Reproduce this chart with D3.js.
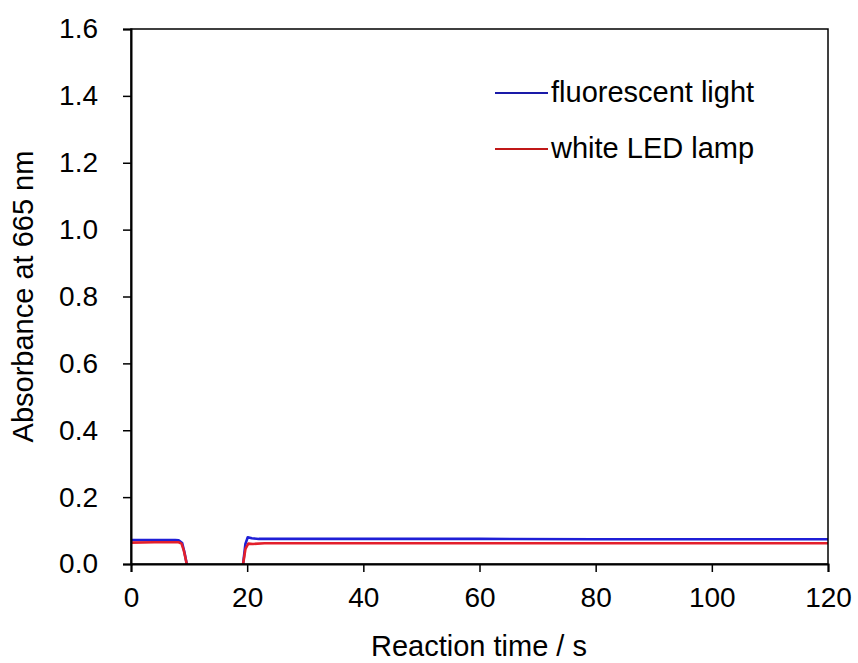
<!DOCTYPE html>
<html>
<head>
<meta charset="utf-8">
<script src="https://cdn.jsdelivr.net/npm/d3@7"></script>
<style>
  body { margin: 0; background: #fff; }
  text { font-family: "Liberation Sans", Arial, sans-serif; fill: #000; }
</style>
</head>
<body>
<svg id="chart" width="858" height="663"></svg>
<script>
// series: [time s, absorbance], null = gap (light off)
const fluorescentLight = [
  [0, 0.072], [4, 0.072], [7.6, 0.072], [8.2, 0.071], [8.8, 0.063], [9.2, 0.035], [9.6, 0], null,
  [19.3, 0], [19.7, 0.06], [20.1, 0.080], [20.8, 0.077], [22, 0.075], [40, 0.075], [60, 0.075], [80, 0.074], [100, 0.074], [120, 0.074]
];
const whiteLedLamp = [
  [0, 0.064], [4, 0.065], [8.2, 0.065], [8.7, 0.061], [9.1, 0.04], [9.6, 0], null,
  [19.3, 0], [19.7, 0.045], [20.2, 0.061], [21, 0.060], [23, 0.062], [40, 0.062], [60, 0.062], [80, 0.062], [100, 0.062], [120, 0.062]
];
const seriesNames = ["fluorescent light", "white LED lamp"];
const seriesColors = ["#1f1fd6", "#e31f2b"];
const xTicks = [0, 20, 40, 60, 80, 100, 120];
const yTicks = [0, 0.2, 0.4, 0.6, 0.8, 1.0, 1.2, 1.4, 1.6];

const margin = {left: 131, top: 29, right: 30, bottom: 99};
const width = 858, height = 663;
const fontSize = "28px";

const svg = d3.select("#chart");

let x = d3.scaleLinear().domain([0, 120]).range([margin.left, width - margin.right]);
let y = d3.scaleLinear().domain([0, 1.6]).range([height - margin.bottom, margin.top]);

svg.append("clipPath").attr("id", "clip")
   .append("rect")
   .attr("x", x(0)).attr("y", y(1.6))
   .attr("width", x(120) - x(0)).attr("height", y(0) - y(1.6));

let line = d3.line()
             .defined(d => d !== null)
             .x(d => x(d[0]))
             .y(d => y(d[1]));

[fluorescentLight, whiteLedLamp].forEach(function (data, i) {
    svg.append("path")
       .attr("d", line(data))
       .attr("fill", "none")
       .attr("clip-path", "url(#clip)")
       .attr("stroke", seriesColors[i])
       .attr("stroke-width", 2.6)
       .attr("stroke-linejoin", "round");
});

// frame
svg.append("rect")
   .attr("x", x(0)).attr("y", y(1.6))
   .attr("width", x(120) - x(0)).attr("height", y(0) - y(1.6))
   .attr("fill", "none").attr("stroke", "#000").attr("stroke-width", 1.5);

// axes
let xAxis = svg.append("g")
   .attr("transform", "translate(0," + y(0) + ")")
   .call(d3.axisBottom(x).tickValues(xTicks).tickSize(8).tickPadding(15).tickFormat(d3.format("d")));
let yAxis = svg.append("g")
   .attr("transform", "translate(" + x(0) + ",0)")
   .call(d3.axisLeft(y).tickValues(yTicks).tickSize(8).tickPadding(25).tickFormat(d3.format(".1f")));

[xAxis, yAxis].forEach(function (a) {
    a.select(".domain").attr("stroke", "#000").attr("stroke-width", 2);
    a.selectAll(".tick line").attr("stroke", "#000").attr("stroke-width", 1.5);
    a.selectAll(".tick text")
     .style("font-family", "'Liberation Sans', Arial, sans-serif")
     .style("font-size", fontSize)
     .attr("fill", "#000");
});

// axis titles
svg.append("text")
   .attr("x", 479)
   .attr("y", 656)
   .attr("text-anchor", "middle")
   .style("font-size", "29px")
   .text("Reaction time / s");

svg.append("text")
   .attr("transform", "translate(33," + ((y(0) + y(1.6)) / 2) + ") rotate(-90)")
   .attr("text-anchor", "middle")
   .style("font-size", "29px")
   .text("Absorbance at 665 nm");

// legend
const legendColors = ["#1a1aa8", "#c01818"];
seriesNames.forEach(function (name, i) {
    let ly = 93 + i * 56;
    svg.append("line")
       .attr("x1", 495).attr("x2", 548)
       .attr("y1", ly).attr("y2", ly)
       .attr("stroke", legendColors[i]).attr("stroke-width", 2);
    svg.append("text")
       .attr("x", 551).attr("y", ly + 9)
       .style("font-size", "29px")
       .text(name);
});
</script>
</body>
</html>
